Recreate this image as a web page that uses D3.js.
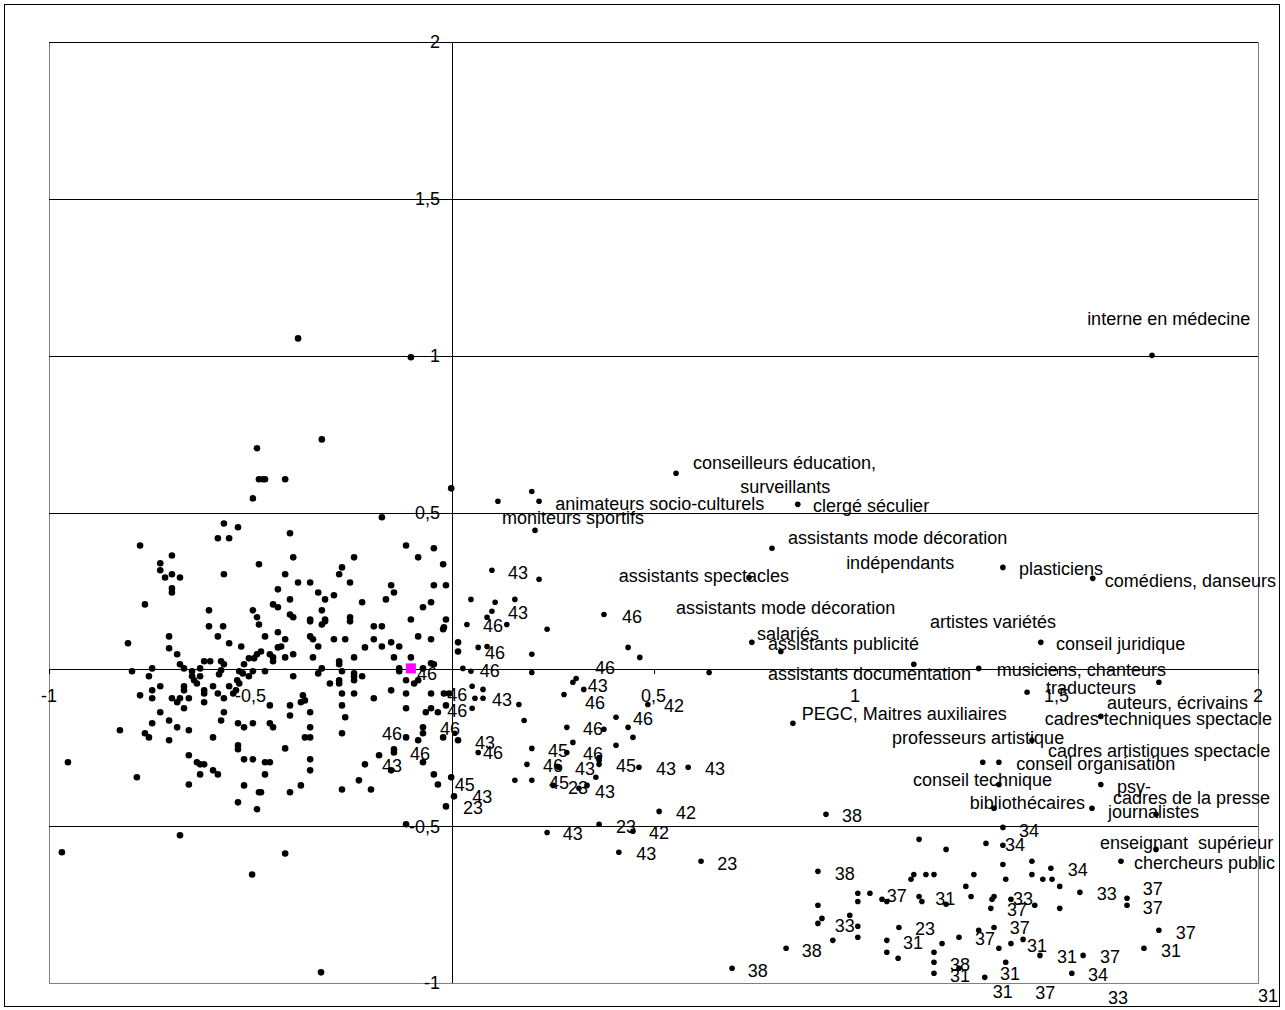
<!DOCTYPE html>
<html>
<head>
<meta charset="utf-8">
<title>Plan factoriel</title>
<script src="https://cdn.jsdelivr.net/npm/d3@7"></script>
<style>
  body { margin: 0; background: #fff; }
  svg text { font-family: "Liberation Sans", Arial, sans-serif; font-size: 18px; fill: #000; white-space: pre; }
</style>
</head>
<body>
<div id="chart"></div>

<script>
var width = 1285, height = 1010;

// axis ticks (0 is not labelled on either axis)
var xTicks = [-1, -0.5, 0.5, 1, 1.5, 2];
var xTickLabels = ["-1", "-0,5", "0,5", "1", "1,5", "2"];
var yTicks = [-1, -0.5, 0.5, 1, 1.5, 2];
var yTickLabels = ["-1", "-0,5", "0,5", "1", "1,5", "2"];
var gridValues = [-0.5, 0, 0.5, 1, 1.5, 2];

// unlabelled cloud (left side)
var cloud = [
 [-0.382,1.055],[-0.102,0.995],[-0.323,0.733],[-0.484,0.705],[-0.002,0.577],[-0.479,0.606],[-0.469,0.606],[-0.464,0.606],
 [-0.414,0.606],[-0.494,0.545],[-0.174,0.485],[-0.566,0.465],[-0.531,0.453],[-0.581,0.418],[-0.553,0.418],[-0.774,0.395],
 [-0.695,0.363],[-0.724,0.338],[-0.724,0.316],[-0.712,0.293],[-0.695,0.303],[-0.675,0.293],[-0.566,0.303],[-0.695,0.258],
 [-0.695,0.245],[-0.479,0.335],[-0.762,0.207],[-0.603,0.188],[-0.494,0.188],[-0.484,0.166],[-0.402,0.434],[-0.394,0.357],
 [-0.414,0.303],[-0.273,0.325],[-0.280,0.303],[-0.243,0.357],[-0.253,0.277],[-0.382,0.277],[-0.352,0.277],[-0.432,0.255],
 [-0.402,0.223],[-0.444,0.207],[-0.432,0.198],[-0.332,0.245],[-0.315,0.223],[-0.293,0.236],[-0.223,0.214],[-0.114,0.395],
 [-0.084,0.357],[-0.045,0.386],[-0.022,0.335],[-0.151,0.268],[-0.144,0.245],[-0.164,0.223],[-0.045,0.268],[-0.015,0.268],
 [-0.072,0.198],[-0.052,0.214],[-0.402,0.175],[-0.394,0.166],[-0.352,0.159],[-0.323,0.188],[-0.315,0.159],[-0.253,0.166],
 [-0.102,0.159],[-0.015,0.159],
 [-0.479,0.143],[-0.603,0.137],[-0.568,0.137],[-0.581,0.105],[-0.553,0.083],[-0.523,0.073],[-0.702,0.105],[-0.702,0.067],
 [-0.804,0.083],[-0.682,0.048],[-0.675,0.016],[-0.665,0.003],[-0.615,0.026],[-0.600,0.026],[-0.573,0.026],[-0.566,0.016],
 [-0.516,0.016],[-0.504,0.035],[-0.491,0.035],[-0.484,0.048],[-0.794,-0.006],[-0.744,0.003],[-0.752,-0.022],[-0.645,-0.006],
 [-0.645,-0.022],[-0.640,-0.035],[-0.625,0.003],[-0.625,-0.022],[-0.633,-0.045],[-0.578,-0.016],[-0.573,-0.003],[-0.528,-0.006],
 [-0.519,-0.013],[-0.504,-0.022],[-0.494,-0.006],[-0.533,-0.035],[-0.528,-0.045],[-0.724,-0.054],[-0.744,-0.067],[-0.744,-0.092],
 [-0.774,-0.083],[-0.665,-0.054],[-0.665,-0.067],[-0.615,-0.067],[-0.615,-0.077],[-0.593,-0.054],[-0.581,-0.077],[-0.553,-0.054],
 [-0.543,-0.077],[-0.536,-0.067],[-0.695,-0.092],[-0.682,-0.105],[-0.675,-0.092],[-0.653,-0.092],[-0.665,-0.124],[-0.615,-0.105],
 [-0.566,-0.092],[-0.724,-0.137],[-0.566,-0.137],[-0.702,-0.163],[-0.744,-0.172],[-0.682,-0.185],[-0.653,-0.194],[-0.573,-0.163],
 [-0.531,-0.172],[-0.516,-0.185],[-0.494,-0.172],[-0.824,-0.194],[-0.762,-0.204],[-0.752,-0.217],[-0.702,-0.226],[-0.593,-0.217],
 [-0.531,-0.242],[-0.531,-0.255],[-0.653,-0.274],[-0.516,-0.287],[-0.494,-0.287],[-0.953,-0.296],[-0.633,-0.296],[-0.625,-0.303],
 [-0.615,-0.303],[-0.625,-0.335],[-0.593,-0.322],[-0.581,-0.335],[-0.782,-0.344],[-0.653,-0.367],[-0.516,-0.370],[-0.479,-0.392],
 [-0.531,-0.424],[-0.484,-0.446],
 [-0.352,0.153],[-0.323,0.143],[-0.315,0.153],[-0.253,0.153],[-0.020,0.134],[-0.022,0.128],[-0.194,0.137],[-0.174,0.137],
 [-0.464,0.105],[-0.432,0.118],[-0.414,0.096],[-0.352,0.105],[-0.345,0.096],[-0.332,0.073],[-0.293,0.096],[-0.265,0.096],
 [-0.194,0.096],[-0.084,0.105],[-0.052,0.096],[0.015,0.086],[0.015,0.057],[-0.474,0.057],[-0.452,0.048],[-0.444,0.038],
 [-0.444,0.026],[-0.432,0.070],[-0.424,0.073],[-0.414,0.038],[-0.394,0.048],[-0.345,0.038],[-0.280,0.026],[-0.280,0.016],
 [-0.243,0.038],[-0.216,0.070],[-0.174,0.073],[-0.151,0.086],[-0.131,0.073],[-0.144,0.038],[-0.102,0.038],[-0.072,0.003],
 [-0.052,0.019],[-0.045,0.016],[-0.464,-0.006],[-0.394,-0.022],[-0.332,-0.013],[-0.323,0.003],[-0.273,-0.006],[-0.243,-0.013],
 [-0.243,-0.022],[-0.243,-0.035],[-0.223,-0.022],[-0.280,-0.035],[-0.280,-0.045],[-0.303,-0.045],[-0.131,0.003],[-0.131,-0.006],
 [-0.114,-0.035],[-0.094,-0.045],[-0.084,-0.035],[-0.273,-0.077],[-0.243,-0.077],[-0.194,-0.092],[-0.151,-0.067],[-0.114,-0.077],
 [-0.052,-0.077],[-0.020,-0.077],[-0.007,-0.077],[-0.452,-0.115],[-0.402,-0.115],[-0.370,-0.083],[-0.365,-0.099],[-0.375,-0.105],
 [-0.273,-0.115],[-0.352,-0.137],[-0.402,-0.147],[-0.265,-0.153],[-0.114,-0.124],[-0.065,-0.137],[-0.052,-0.124],[-0.035,-0.137],
 [-0.015,-0.115],[-0.452,-0.172],[-0.444,-0.185],[-0.352,-0.185],[-0.414,-0.252],[-0.365,-0.217],[-0.352,-0.217],[-0.273,-0.204],
 [-0.072,-0.185],[-0.072,-0.204],[-0.114,-0.217],[-0.084,-0.226],[-0.022,-0.217],[0.015,-0.226],[-0.464,-0.296],[-0.452,-0.296],
 [-0.464,-0.335],[-0.352,-0.287],[-0.352,-0.322],[-0.181,-0.274],[-0.144,-0.255],[-0.144,-0.265],[-0.072,-0.296],[-0.151,-0.322],
 [-0.216,-0.303],[-0.045,-0.335],[-0.035,-0.367],[-0.002,-0.344],[0.005,-0.405],[-0.474,-0.392],[-0.402,-0.392],[-0.375,-0.370],
 [-0.273,-0.383],[-0.231,-0.354],[-0.201,-0.383],[-0.015,-0.437],
 [-0.114,-0.494],[-0.675,-0.529],[-0.968,-0.583],[-0.414,-0.587],[-0.496,-0.654],[-0.325,-0.966]
];

// points carrying code labels (middle and lower right)
var coded = [
 [0.114,0.536],[0.198,0.567],[0.216,0.536],[0.206,0.443],[0.099,0.316],[0.216,0.287],[0.047,0.223],[0.107,0.214],
 [0.099,0.185],[0.156,0.223],[0.087,0.166],[0.037,0.143],[0.136,0.143],[0.236,0.128],[0.377,0.175],[0.065,0.070],
 [0.087,0.073],[0.198,0.048],[0.437,0.070],[0.466,0.038],[0.027,0.003],[0.047,-0.006],[0.198,-0.010],[0.638,-0.010],
 [0.308,-0.029],[0.300,-0.041],[0.050,-0.054],[0.077,-0.064],[0.057,-0.092],[0.077,-0.092],[0.050,-0.124],[0.166,-0.112],
 [0.278,-0.080],[0.327,-0.064],[0.486,-0.112],[0.179,-0.163],[0.407,-0.153],[0.437,-0.185],[0.285,-0.185],[0.377,-0.191],
 [0.449,-0.217],[0.007,-0.204],[0.300,-0.233],[0.407,-0.242],[0.065,-0.265],[0.198,-0.252],[0.285,-0.265],[0.365,-0.281],
 [0.365,-0.290],[0.365,-0.303],[0.186,-0.303],[0.261,-0.309],[0.265,-0.312],[0.464,-0.312],[0.586,-0.312],[0.357,-0.344],
 [0.156,-0.354],[0.198,-0.354],[0.251,-0.370],[0.315,-0.379],[0.335,-0.370],[0.514,-0.453],[0.365,-0.494],[0.449,-0.516],
 [0.236,-0.520],[0.414,-0.583],[0.618,-0.612],
 [0.928,-0.462],[1.367,-0.504],[1.325,-0.555],[1.367,-0.561],[1.367,-0.622],[1.439,-0.612],[1.486,-0.634],[1.374,-0.669],
 [1.439,-0.654],[1.466,-0.669],[1.489,-0.669],[1.508,-0.692],[1.558,-0.711],[1.675,-0.730],[1.675,-0.752],[1.340,-0.733],
 [1.345,-0.724],[1.337,-0.762],[1.387,-0.733],[1.446,-0.752],[1.508,-0.762],[1.345,-0.823],[1.417,-0.861],[1.387,-0.874],
 [1.357,-0.889],[1.459,-0.912],[1.566,-0.912],[1.717,-0.889],[1.754,-0.832],[1.374,-0.934],[1.538,-0.969],[1.322,-0.982],
 [0.908,-0.644],[1.159,-0.542],[1.226,-0.574],[1.139,-0.669],[1.146,-0.654],[1.176,-0.654],[1.196,-0.654],[1.295,-0.654],
 [1.275,-0.692],[1.288,-0.724],[1.007,-0.714],[1.007,-0.740],[1.037,-0.714],[1.067,-0.733],[1.079,-0.740],[1.159,-0.724],
 [1.166,-0.740],[1.226,-0.749],[0.908,-0.752],[0.987,-0.784],[0.918,-0.794],[0.908,-0.810],[1.007,-0.819],[1.007,-0.854],
 [1.109,-0.823],[1.307,-0.832],[1.258,-0.854],[1.216,-0.874],[0.945,-0.864],[1.079,-0.864],[1.079,-0.902],[1.107,-0.921],
 [1.196,-0.902],[1.196,-0.934],[1.196,-0.969],[0.829,-0.889],[0.695,-0.953],[1.258,-0.953]
];

// points carrying profession names
var named = [
 [0.556,0.625],[0.858,0.526],[0.794,0.386],[0.737,0.293],[0.744,0.086],[0.816,0.057],[1.146,0.016],[1.307,0.003],
 [1.367,0.325],[1.590,0.290],[1.461,0.086],[1.427,-0.073],[1.754,-0.041],[1.610,-0.150],[1.439,-0.226],[1.317,-0.296],
 [1.357,-0.296],[1.357,-0.367],[1.610,-0.367],[1.588,-0.443],[1.747,-0.462],[1.345,-0.443],[0.846,-0.172],[1.737,1.001],
 [1.747,-0.574],[1.660,-0.612]
];

// supplementary point (magenta)
var origin = [[-0.102, 0.003]];

// code labels: [x of left edge, y centre, text]
var codeLabels = [
 [0.968,-0.465,"38"],[1.407,-0.513,"34"],[1.372,-0.558,"34"],[1.528,-0.638,"34"],[1.600,-0.714,"33"],[1.714,-0.698,"37"],
 [1.714,-0.759,"37"],[1.392,-0.730,"33"],[1.377,-0.765,"37"],[1.384,-0.823,"37"],[1.298,-0.858,"37"],[1.427,-0.880,"31"],
 [1.501,-0.915,"31"],[1.608,-0.915,"37"],[1.759,-0.896,"31"],[1.796,-0.838,"37"],[1.578,-0.972,"34"],[1.360,-0.969,"31"],
 [1.342,-1.027,"31"],[1.447,-1.030,"37"],[1.628,-1.046,"33"],[2.000,-1.039,"31"],[0.950,-0.650,"38"],[1.079,-0.721,"37"],
 [1.199,-0.730,"31"],[0.950,-0.816,"33"],[1.149,-0.826,"23"],[1.119,-0.870,"31"],[0.868,-0.896,"38"],[0.734,-0.960,"38"],
 [1.236,-0.940,"38"],[1.236,-0.975,"31"],[0.658,-0.618,"23"],
 [0.139,0.309,"43"],[0.139,0.182,"43"],[0.077,0.140,"46"],[0.422,0.169,"46"],[0.082,0.054,"46"],[0.069,-0.003,"46"],
 [0.355,0.006,"46"],[0.337,-0.051,"43"],[-0.012,-0.080,"46"],[0.099,-0.096,"43"],[0.330,-0.105,"46"],[-0.012,-0.131,"46"],
 [0.526,-0.115,"42"],[0.449,-0.156,"46"],[-0.030,-0.188,"46"],[0.325,-0.188,"46"],[0.057,-0.233,"43"],[0.077,-0.265,"46"],
 [0.238,-0.258,"45"],[0.325,-0.268,"46"],[0.226,-0.306,"46"],[0.305,-0.316,"43"],[0.407,-0.306,"45"],[0.506,-0.316,"43"],
 [0.628,-0.316,"43"],[0.241,-0.360,"45"],[0.288,-0.376,"23"],[0.355,-0.389,"43"],[0.007,-0.367,"45"],[0.050,-0.405,"43"],
 [0.027,-0.440,"23"],[0.556,-0.456,"42"],[0.407,-0.501,"23"],[0.489,-0.520,"42"],[0.275,-0.523,"43"],[0.457,-0.587,"43"],
 [-0.087,-0.013,"46"],[-0.174,-0.204,"46"],[-0.104,-0.268,"46"],[-0.174,-0.306,"43"]
];

// profession labels: [x of left edge, y centre, text]
var nameLabels = [
 [1.576,1.119,"interne en médecine"],[0.598,0.660,"conseilleurs éducation,"],[0.715,0.583,"surveillants"],
 [0.256,0.529,"animateurs socio-culturels"],[0.124,0.485,"moniteurs sportifs"],[0.896,0.523,"clergé séculier"],
 [0.834,0.421,"assistants mode décoration"],[0.978,0.341,"indépendants"],[1.407,0.322,"plasticiens"],
 [1.620,0.284,"comédiens, danseurs"],[0.414,0.300,"assistants spectacles"],[0.556,0.198,"assistants mode décoration"],
 [1.186,0.153,"artistes variétés"],[0.757,0.115,"salariés"],[1.499,0.083,"conseil juridique"],
 [0.784,0.083,"assistants publicité"],[1.352,0.000,"musiciens, chanteurs"],[0.784,-0.013,"assistants documentation"],
 [1.474,-0.057,"traducteurs"],[1.625,-0.105,"auteurs, écrivains"],[1.471,-0.156,"cadres techniques spectacle"],
 [0.868,-0.140,"PEGC, Maitres auxiliaires"],[1.092,-0.217,"professeurs artistique"],[1.479,-0.258,"cadres artistiques spectacle"],
 [1.400,-0.300,"conseil organisation"],[1.144,-0.351,"conseil technique"],[1.650,-0.373,"psy-"],
 [1.640,-0.408,"cadres de la presse"],[1.285,-0.424,"bibliothécaires"],[1.628,-0.453,"journalistes"],
 [1.608,-0.551,"enseignant  supérieur"],[1.692,-0.615,"chercheurs public"]
];

var x = d3.scaleLinear().domain([-1, 2]).range([49, 1258]);
var y = d3.scaleLinear().domain([-1, 2]).range([983, 42]);

var svg = d3.select("#chart").append("svg")
  .attr("width", width)
  .attr("height", height);

svg.append("rect")
  .attr("width", width).attr("height", height)
  .attr("fill", "#fff");

// outer frame
svg.append("rect")
  .attr("x", 4.5).attr("y", 4.5)
  .attr("width", 1275).attr("height", 1002)
  .attr("fill", "none").attr("stroke", "#000").attr("stroke-width", 1);

// plot area border
svg.append("rect")
  .attr("x", x(-1) + 0.5).attr("y", y(2) + 0.5)
  .attr("width", x(2) - x(-1)).attr("height", y(-1) - y(2))
  .attr("fill", "none").attr("stroke", "#808080")
  .attr("shape-rendering", "crispEdges");

// horizontal gridlines
svg.append("g").selectAll("line").data(gridValues).enter().append("line")
  .attr("x1", x(-1)).attr("x2", x(2))
  .attr("y1", function(d) { return Math.round(y(d)) + 0.5; })
  .attr("y2", function(d) { return Math.round(y(d)) + 0.5; })
  .attr("stroke", "#000").attr("shape-rendering", "crispEdges");

// vertical axis at x = 0
svg.append("line")
  .attr("x1", Math.round(x(0)) + 0.5).attr("x2", Math.round(x(0)) + 0.5)
  .attr("y1", y(2)).attr("y2", y(-1))
  .attr("stroke", "#000").attr("shape-rendering", "crispEdges");

// small ticks under the horizontal axis
svg.append("g").selectAll("line").data(xTicks).enter().append("line")
  .attr("x1", function(d) { return Math.round(x(d)) + 0.5; })
  .attr("x2", function(d) { return Math.round(x(d)) + 0.5; })
  .attr("y1", y(0)).attr("y2", y(0) + 5)
  .attr("stroke", "#000").attr("shape-rendering", "crispEdges");

// tick labels
svg.append("g").selectAll("text").data(xTicks).enter().append("text")
  .attr("x", function(d) { return x(d); })
  .attr("y", y(0) + 33)
  .attr("text-anchor", "middle")
  .text(function(d, i) { return xTickLabels[i]; });

svg.append("g").selectAll("text").data(yTicks).enter().append("text")
  .attr("x", x(0) - 12)
  .attr("y", function(d) { return y(d); })
  .attr("dy", "0.36em")
  .attr("text-anchor", "end")
  .text(function(d, i) { return yTickLabels[i]; });

// points
svg.append("g").selectAll("circle").data(cloud).enter().append("circle")
  .attr("cx", function(d) { return x(d[0]); })
  .attr("cy", function(d) { return y(d[1]); })
  .attr("r", 3.3).attr("fill", "#000");

svg.append("g").selectAll("circle").data(coded.concat(named)).enter().append("circle")
  .attr("cx", function(d) { return x(d[0]); })
  .attr("cy", function(d) { return y(d[1]); })
  .attr("r", 2.8).attr("fill", "#000");

svg.append("g").selectAll("rect").data(origin).enter().append("rect")
  .attr("x", function(d) { return x(d[0]) - 5; })
  .attr("y", function(d) { return y(d[1]) - 5; })
  .attr("width", 10).attr("height", 10)
  .attr("fill", "#ff00ff");

// labels
svg.append("g").selectAll("text").data(codeLabels.concat(nameLabels)).enter().append("text")
  .attr("x", function(d) { return x(d[0]); })
  .attr("y", function(d) { return y(d[1]); })
  .attr("dy", "0.36em")
  .text(function(d) { return d[2]; });
</script>
</body>
</html>
